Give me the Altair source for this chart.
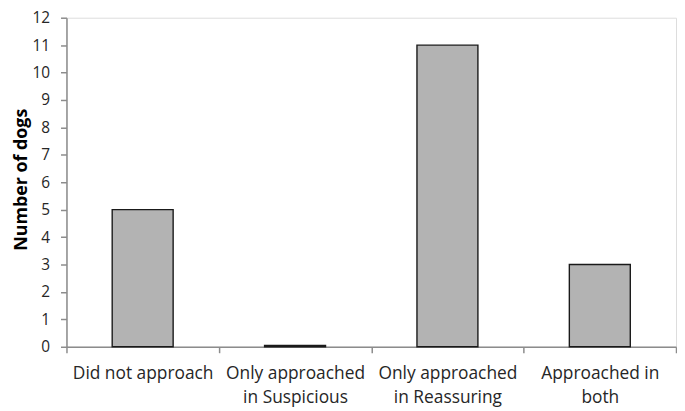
import altair as alt
import pandas as pd

categories = [
    "Did not approach",
    "Only approached|in Suspicious",
    "Only approached|in Reassuring",
    "Approached in|both",
]
counts = [5, 0.05, 11, 3]
y_ticks = list(range(0, 13))

df = pd.DataFrame({"category": categories, "count": counts})

FONT = "Open Sans"

chart = (
    alt.Chart(df)
    .mark_bar(
        width={"band": 0.40},
        color="#b3b3b3",
        stroke="#1a1a1a",
        strokeWidth=1.4,
    )
    .encode(
        x=alt.X(
            "category:N",
            sort=None,
            scale=alt.Scale(paddingInner=0, paddingOuter=0),
            axis=alt.Axis(
                title=None,
                labelAngle=0,
                labelExpr="split(datum.label, '|')",
                labelFont=FONT,
                labelFontSize=17.5,
                labelColor="#262626",
                labelLineHeight=24.5,
                labelPadding=12,
                labelBaseline="top",
                labelLimit=200,
                tickBand="extent",
                tickSize=6,
                tickColor="#8c8c8c",
                domainColor="#8c8c8c",
                domainWidth=1.5,
                tickWidth=1.5,
                grid=False,
            ),
        ),
        y=alt.Y(
            "count:Q",
            scale=alt.Scale(domain=[0, 12], nice=False),
            axis=alt.Axis(
                title="Number of dogs",
                values=y_ticks,
                format="d",
                labelFont=FONT,
                labelFontSize=15.5,
                labelColor="#262626",
                labelPadding=11,
                tickSize=6,
                tickColor="#8c8c8c",
                domainColor="#8c8c8c",
                domainWidth=1.5,
                tickWidth=1.5,
                grid=False,
                titleFont=FONT,
                titleFontSize=18,
                titleFontWeight="bold",
                titleColor="#000000",
                titleAngle=-90,
                titleAlign="center",
                titleBaseline="middle",
                titleX=-45,
                titleY=163,
            ),
        ),
    )
    .properties(
        width=615,
        height=332,
        autosize=alt.AutoSizeParams(type="none"),
        padding={"left": 59, "top": 8, "right": 1, "bottom": 63},
    )
    .configure_view(stroke=None)
    .configure(background="white")
)

chart.save("out.html", embed_options={"renderer": "svg", "actions": False})
